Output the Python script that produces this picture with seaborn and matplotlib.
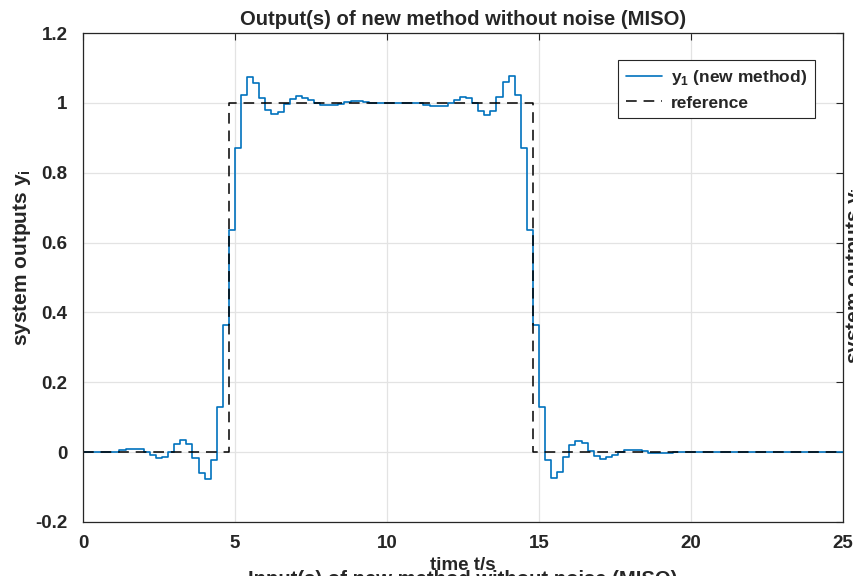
import numpy as np
import pandas as pd
import matplotlib
matplotlib.use("Agg")
import matplotlib.pyplot as plt
import seaborn as sns

# ---------------- data ----------------
Ts = 0.2
y1_values = [
    0, 0, 0, 0, 0, 0, 0.005, 0.008, 0.010, 0.010,            # 0.0 - 1.8
    0.000, -0.009, -0.018, -0.013, 0.000, 0.023, 0.034, 0.023, -0.016, -0.060,  # 2.0 - 3.8
    -0.077, -0.022, 0.128, 0.363, 0.636, 0.871, 1.023, 1.075, 1.058, 1.015,     # 4.0 - 5.8
    0.979, 0.968, 0.975, 0.996, 1.010, 1.019, 1.015, 1.008, 1.000, 0.995,       # 6.0 - 7.8
    0.994, 0.995, 0.998, 1.002, 1.004, 1.004, 1.003, 1.001, 1.000, 1.000,       # 8.0 - 9.8
    1.000, 1.000, 1.000, 1.000, 1.000, 1.000, 0.995, 0.992, 0.990, 0.990,       # 10.0 - 11.8
    1.000, 1.009, 1.018, 1.013, 1.000, 0.977, 0.966, 0.977, 1.016, 1.060,       # 12.0 - 13.8
    1.077, 1.022, 0.872, 0.637, 0.364, 0.129, -0.023, -0.075, -0.058, -0.015,   # 14.0 - 15.8
    0.021, 0.032, 0.025, 0.004, -0.010, -0.019, -0.015, -0.008, 0.000, 0.005,   # 16.0 - 17.8
    0.006, 0.005, 0.002, -0.002, -0.003, -0.003, -0.002, -0.001, 0, 0,          # 18.0 - 19.8
    0, 0, 0, 0, 0, 0, 0, 0, 0, 0,                                               # 20.0 - 21.8
    0, 0, 0, 0, 0, 0, 0, 0, 0, 0,                                               # 22.0 - 23.8
    0, 0, 0, 0, 0, 0,                                                           # 24.0 - 25.0
]
ref_time = [0, 4.8, 14.8, 25]
ref_values = [0, 1, 0, 0]

x_ticks = [0, 5, 10, 15, 20, 25]
x_tick_labels = ["0", "5", "10", "15", "20", "25"]
y_ticks = [-0.2, 0, 0.2, 0.4, 0.6, 0.8, 1.0, 1.2]
y_tick_labels = ["-0.2", "0", "0.2", "0.4", "0.6", "0.8", "1", "1.2"]

title = "Output(s) of new method without noise (MISO)"
next_title = "Input(s) of new method without noise (MISO)"
xlabel = "time t/s"
ylabel = "system outputs y$_\\mathregular{i}$"
legend_y1 = "y$_\\mathregular{1}$ (new method)"
legend_ref = "reference"

t = np.round(np.arange(len(y1_values)) * Ts, 6)
df_y = pd.DataFrame({"t": t, "y": y1_values})
df_r = pd.DataFrame({"t": ref_time, "y": ref_values})

# ---------------- style ----------------
sns.set_style("white")
plt.rcParams["font.family"] = ["Liberation Sans", "DejaVu Sans"]
plt.rcParams["font.weight"] = "bold"
plt.rcParams["mathtext.fontset"] = "custom"
plt.rcParams["mathtext.rm"] = "Liberation Sans:bold"

fig = plt.figure(figsize=(8.54, 5.76), dpi=100)
ax = fig.add_axes([83 / 854, 1 - 522 / 576, 760 / 854, 489 / 576])

sns.lineplot(data=df_y, x="t", y="y", ax=ax, color="#0072BD", linewidth=1.2,
             drawstyle="steps-post", label=legend_y1, estimator=None, sort=False)
sns.lineplot(data=df_r, x="t", y="y", ax=ax, color="black", linewidth=1.1,
             drawstyle="steps-post", label=legend_ref, estimator=None, sort=False,
             dashes=False, linestyle=(0, (7, 4.5)))

ax.set_xlim(0, 25)
ax.set_ylim(-0.2, 1.2)
ax.set_xticks(x_ticks)
ax.set_xticklabels(x_tick_labels)
ax.set_yticks(y_ticks)
ax.set_yticklabels(y_tick_labels)
ax.grid(True, color="#e3e3e3", linewidth=0.9)
ax.set_axisbelow(True)
ax.tick_params(direction="in", length=5, width=0.8, top=True, right=True,
               labelsize=13.5, colors="#262626")
ax.tick_params(axis="x", pad=9)
ax.tick_params(axis="y", pad=11)
for lab in ax.get_xticklabels() + ax.get_yticklabels():
    lab.set_fontweight("bold")
for sp in ax.spines.values():
    sp.set_color("#262626")
    sp.set_linewidth(0.9)

ax.set_title(title, fontsize=14.6, fontweight="bold", pad=6)
ax.set_xlabel(xlabel, fontsize=13.5, fontweight="bold")
ax.xaxis.set_label_coords(0.5, -0.072)
ax.xaxis.label.set_va("top")
ax.set_ylabel(ylabel, fontsize=15, fontweight="bold")
ax.yaxis.set_label_coords(-0.066, 0.54)

leg = ax.legend(loc="upper right", bbox_to_anchor=(0.963, 0.945), frameon=True,
                fancybox=False, edgecolor="#262626", framealpha=1,
                prop={"weight": "bold", "size": 12.5}, handlelength=2.1,
                handletextpad=0.5, borderpad=0.45, labelspacing=0.5,
                borderaxespad=0)
leg.get_frame().set_linewidth(0.8)

# clipped labels from neighbouring subplots
fig.text(855 / 854, 1 - 276 / 576, "system outputs y$_\\mathregular{i}$", rotation=90,
         ha="center", va="center", fontsize=15, fontweight="bold")
fig.text(463 / 854, 1 - 585 / 576, next_title, ha="center", va="baseline",
         fontsize=14.6, fontweight="bold")

fig.savefig("out.png", dpi=100)
